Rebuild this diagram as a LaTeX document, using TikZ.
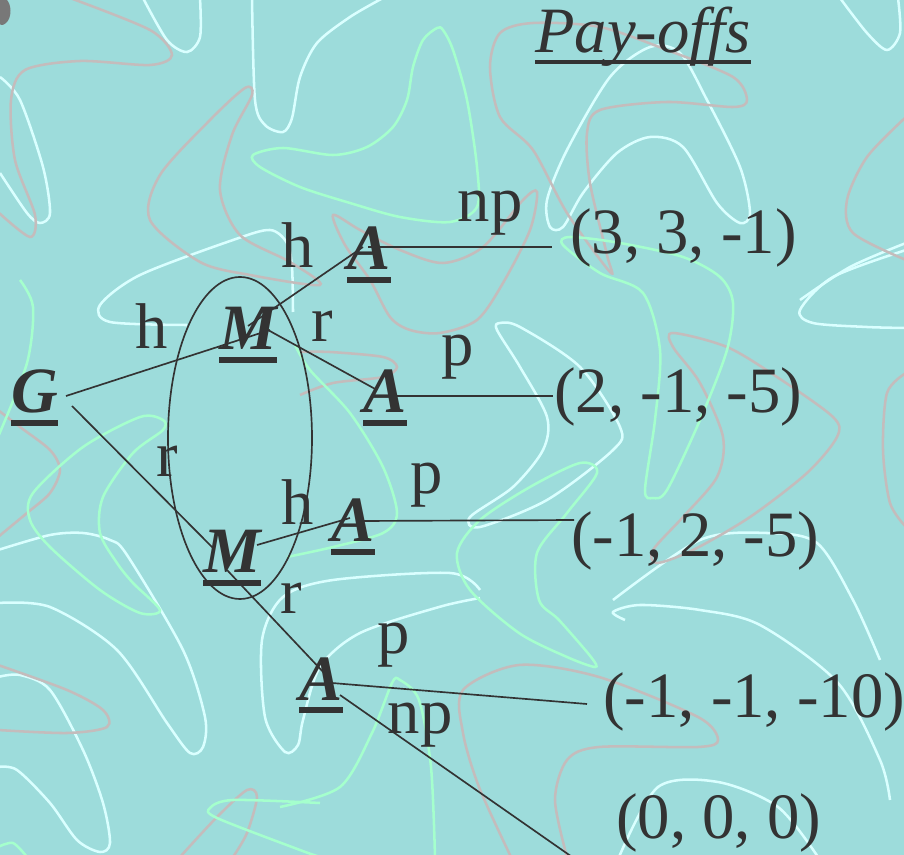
\documentclass[tikz,border=0pt]{standalone}
\usepackage{fontspec}
\setmainfont{Liberation Serif}
\usetikzlibrary{shapes.geometric,calc}
\definecolor{bgc}{RGB}{157,220,219}
\definecolor{ink}{RGB}{51,51,51}
\definecolor{swhite}{RGB}{218,255,255}
\definecolor{sgray}{RGB}{196,188,188}
\definecolor{sgreen}{RGB}{165,255,205}
\definecolor{blobc}{RGB}{120,120,120}
\newcommand\bigfont{\fontsize{48.5}{58}\selectfont}
\begin{document}
\begin{tikzpicture}[x=0.75pt,y=-0.75pt,
  txt/.style={font=\bigfont, text=ink, inner sep=0pt, anchor=base west},
  lbl/.style={font=\bigfont, text=ink, inner sep=0pt, anchor=base},
  player/.style={font=\bigfont\bfseries\itshape, text=ink, inner sep=0pt, anchor=base west},
  edge/.style={draw=ink, line width=1.25pt},
  ul/.style={draw=ink, line width=5pt},
  deco/.style={line width=1.9pt},
  dw/.style={deco, draw=swhite},
  dg/.style={deco, draw=sgray},
  dn/.style={deco, draw=sgreen},
]
\fill[bgc] (0,0) rectangle (904,855);
\useasboundingbox (0,0) rectangle (904,855);
\begin{scope}
\clip (0,0) rectangle (904,855);
% white curves
\draw[dw] plot[smooth] coordinates {(0,77) (20,100) (43,167) (50,213) (40,223) (27,213) (0,173)};
\draw[dw] plot[smooth] coordinates {(143,-2) (167,40) (187,52) (200,37) (200,-2)};
\draw[dw] plot[smooth] coordinates {(252,-2) (255,100) (265,125) (283,132) (292,118) (300,77) (317,43) (350,17) (383,-2)};
\draw[dw] plot[smooth] coordinates {(187,325) (110,322) (100,305) (140,275) (233,240) (270,230) (287,243) (292,267) (293,312)};
\draw[dw] plot[smooth cycle] coordinates {(547,200) (567,150) (610,77) (650,47) (680,53) (707,100) (740,167) (750,213) (740,223) (717,203) (683,147) (650,137) (617,153) (583,193) (563,227) (550,227)};
\draw[dw] plot[smooth] coordinates {(800,300) (850,267) (906,243)};
\draw[dw] plot[smooth] coordinates {(840,-2) (867,33) (887,50) (900,33) (898,-2)};
\draw[dw] plot[smooth] coordinates {(906,250) (833,277) (800,310) (813,323) (867,327) (906,328)};
\draw[dw] plot[smooth] coordinates {(613,600) (700,540) (767,533) (817,543) (853,600) (880,660)};
\draw[dw] plot[smooth cycle] coordinates {(500,323) (520,327) (580,367) (620,427) (613,450) (547,500) (480,527) (470,517) (513,487) (543,450) (547,417) (520,367) (497,330)};
\draw[dw] plot[smooth] coordinates {(-2,550) (50,535) (83,533) (110,540) (127,555) (183,650) (205,717) (203,747) (190,753) (167,723) (117,650) (50,607) (-2,603)};
\draw[dw] plot[smooth] coordinates {(-2,677) (20,675) (50,690) (83,750) (103,803) (110,843) (100,852) (77,840) (50,803) (17,770) (-2,767)};
\draw[dw] plot[smooth] coordinates {(625,620) (613,612) (640,605) (700,610) (760,625) (838,683) (880,760) (890,800)};
\draw[dw] plot[smooth] coordinates {(480,590) (450,573) (333,580) (283,597) (262,640) (265,717) (285,752) (298,745) (303,720) (320,667) (360,633) (439,607) (480,598)};
\draw[dw] plot[smooth] coordinates {(619,857) (658,787) (718,782) (778,807) (818,857)};
% gray curves
\draw[dg] plot[smooth] coordinates {(70,-2) (150,30) (172,55) (150,65) (80,61) (25,70) (11,100) (15,160) (35,215) (30,237) (-2,212)};
\draw[dg] plot[smooth cycle] coordinates {(320,285) (250,275) (200,262) (150,220) (160,175) (210,120) (245,88) (252,95) (232,135) (220,190) (240,235) (290,262)};
\draw[dg] plot[smooth cycle] coordinates {(477,320) (440,333) (410,330) (390,317) (370,280) (345,245) (333,215) (360,230) (400,250) (443,263) (483,247) (523,200) (537,192) (530,230) (503,283)};
\draw[dg] plot[smooth cycle] coordinates {(610,272) (567,213) (533,150) (500,117) (490,67) (500,33) (533,23) (600,27) (667,50) (733,77) (747,100) (733,107) (667,102) (600,110) (587,133) (590,183) (607,255)};
\draw[dg] plot[smooth cycle] coordinates {(673,333) (727,347) (777,377) (833,417) (837,437) (807,473) (750,517) (693,550) (657,563) (653,550) (683,517) (717,477) (723,437) (700,383) (673,347)};
\draw[dg] plot[smooth] coordinates {(906,117) (867,157) (847,200) (853,233) (906,260)};
\draw[dg] plot[smooth] coordinates {(906,373) (887,393) (883,450) (890,503) (906,527)};
\draw[dg] plot[smooth] coordinates {(-2,665) (67,690) (103,710) (107,727) (67,733) (-2,730)};
\draw[dg] plot[smooth] coordinates {(-2,410) (20,427) (50,450) (60,470) (50,493) (27,513) (-2,537)};
\draw[dg] plot[smooth] coordinates {(511,857) (479,787) (463,733) (463,690) (519,665) (599,677) (698,717) (718,740) (698,747) (599,747) (567,760) (555,800) (567,857)};
\draw[dg] plot[smooth] coordinates {(300,395) (333,383) (383,377) (397,367) (383,357) (330,352) (300,352)};
\draw[dg] plot[smooth] coordinates {(180,857) (217,817) (247,790) (257,797) (247,833) (233,857)};
% green curves
\draw[dn] plot[smooth cycle] coordinates {(437,28) (423,40) (413,67) (407,100) (393,127) (367,147) (333,155) (283,148) (253,155) (260,167) (300,187) (350,203) (400,217) (450,222) (477,207) (477,167) (467,100) (453,50) (443,30)};
\draw[dn] plot[smooth cycle] coordinates {(563,245) (600,273) (643,293) (660,350) (655,420) (645,490) (653,498) (667,490) (700,420) (727,350) (733,303) (720,277) (683,257) (620,243) (570,237)};
\draw[dn] plot[smooth cycle] coordinates {(160,610) (140,613) (100,590) (50,547) (30,520) (33,493) (83,447) (140,417) (163,420) (163,430) (133,453) (103,497) (100,533) (117,563) (133,583)};
\draw[dn] plot[smooth] coordinates {(20,280) (33,307) (27,363) (-2,437)};
\draw[dn] plot[smooth] coordinates {(295,345) (310,370) (350,413) (383,467) (397,513) (383,533) (333,547) (287,557)};
\draw[dn] plot[smooth cycle] coordinates {(597,473) (580,463) (530,487) (480,520) (457,553) (470,590) (519,633) (567,657) (595,667) (591,657) (559,620) (539,600) (537,553) (567,513)};
\draw[dn] plot[smooth] coordinates {(280,807) (340,787) (372,733) (392,683) (400,680) (419,700) (431,767) (435,857)};
\draw[dn] plot[smooth] coordinates {(320,803) (233,800) (210,808) (217,818) (300,850) (320,857)};
\draw[dn] plot[smooth] coordinates {(-2,847) (13,843) (27,857)};
% blob
\fill[blobc] (-1,-1) -- (6,-1) .. controls (12,4) and (12,18) .. (6,23) .. controls (3,26) and (0,25) .. (-1,24) -- cycle;
\end{scope}

% title
\node[txt, font=\bigfont\itshape] (title) at (535,53) {Pay-offs};
\draw[draw=ink, line width=3pt] ($(title.base west)+(0,9)$) -- ($(title.base east)+(0,9)$);

% players
\node[player] (G)  at (11,413) {G};
\node[player] (M1) at (219,350) {M};
\node[player] (A1) at (347,270) {A};
\node[player] (A2) at (363,413) {A};
\node[player] (M2) at (203,573) {M};
\node[player] (A3) at (331,542) {A};
\node[player] (A4) at (299,700) {A};
\foreach \n in {G,M1,A1,A2,M2,A3,A4}
  \draw[ul] ($(\n.base west)+(0,10)$) -- ($(\n.base east)+(0,10)$);

% information set
\node[draw=ink, line width=1.25pt, ellipse, minimum width=108pt, minimum height=241.5pt, inner sep=0pt] (info) at (240,438) {};

% payoffs
\node[txt] (P1) at (570,254) {(3, 3, -1)};
\node[txt] (P2) at (554,413) {(2, -1, -5)};
\node[txt] (P3) at (571,557) {(-1, 2, -5)};
\node[txt] (P4) at (603,717) {(-1, -1, -10)};
\node[txt] (P5) at (616,838) {(0, 0, 0)};

% edges
\draw[edge] ($(G.base west)+(55,-17)$) -- ($(M1.base west)+(51,-20)$);
\draw[edge] ($(M1.base west)+(29,-24)$) -- ($(A1.base west)+(16,-23)$);
\draw[edge] ($(A1.base west)+(21,-23)$) -- ($(P1.base west)+(-18,-7)$);
\draw[edge] ($(M1.base west)+(49,-20)$) -- ($(A2.base west)+(14,-23)$);
\draw[edge] ($(A2.base west)+(32,-17)$) -- ($(P2.base west)+(-1,-17)$);
\draw[edge] ($(G.base west)+(61,-7)$) -- ($(M2.base west)+(10,-25)$);
\draw[edge] ($(M2.base west)+(24,-3)$) -- ($(A4.base west)+(27,-25)$);
\draw[edge] ($(M2.base west)+(54,-28)$) -- ($(A3.base west)+(19,-24)$);
\draw[edge] ($(A3.base west)+(31,-21)$) -- ($(P3.base west)+(3,-37)$);
\draw[edge] ($(A4.base west)+(33,-17)$) -- ($(P4.base west)+(-16,-13)$);
\coordinate (out) at (575,859);
\draw[edge] ($(A4.base west)+(41,-5)$) -- (out);

% labels
\node[lbl] (lh1) at (152,349) {h};
\node[lbl] (lh2) at (298,268) {h};
\node[lbl] (lr1) at (322,342) {r};
\node[lbl] (lnp1) at (490,222) {np};
\node[lbl] (lp1) at (458,366) {p};
\node[lbl] (lr2) at (167,477) {r};
\node[lbl] (lh3) at (298,525) {h};
\node[lbl] (lp2) at (427,494) {p};
\node[lbl] (lr3) at (291,614) {r};
\node[lbl] (lp3) at (394,653) {p};
\node[lbl] (lnp2) at (420,733) {np};
\end{tikzpicture}
\end{document}
